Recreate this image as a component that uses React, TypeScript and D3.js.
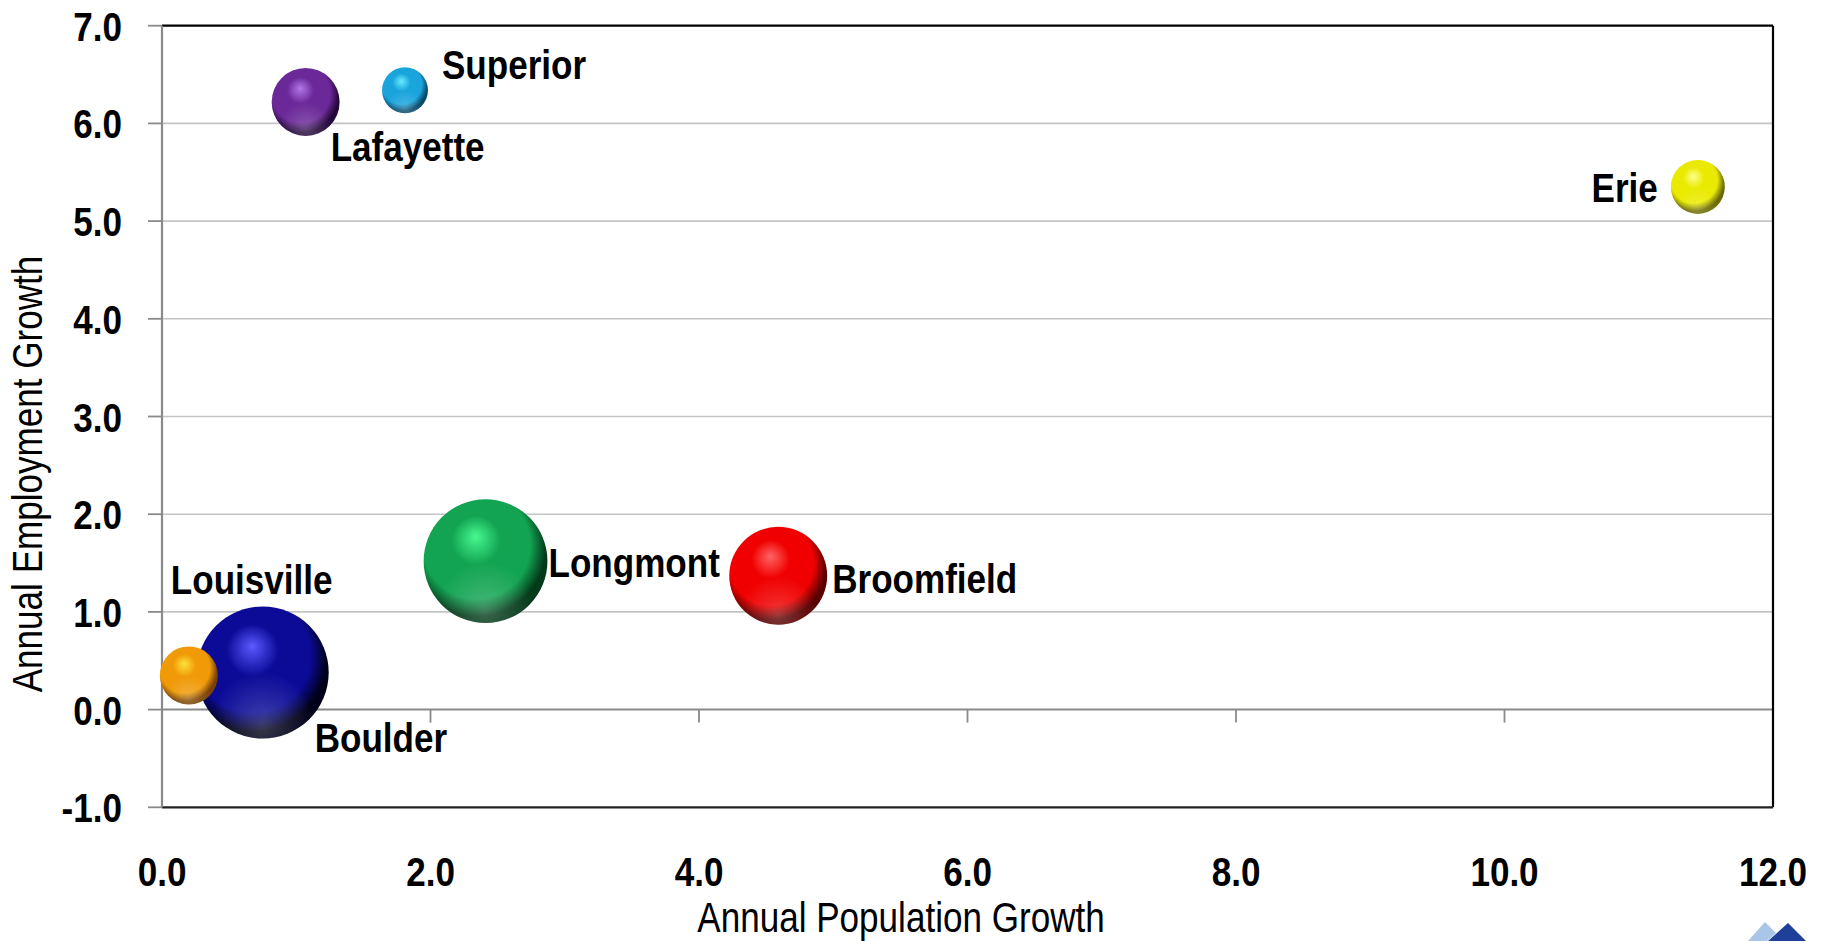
import React from "react";
import * as d3 from "d3";

const cities = ["Boulder", "Louisville", "Lafayette", "Superior", "Longmont", "Broomfield", "Erie"];
const popGrowth = [0.75, 0.2, 1.07, 1.81, 2.41, 4.59, 11.44];
const empGrowth = [0.38, 0.35, 6.22, 6.34, 1.52, 1.37, 5.35];
const bubbleSize = [100, 19.3, 26.5, 12.1, 88, 55, 16.7];
const baseColors = ["#0b0b98", "#f09a08", "#6a2898", "#1aa4dc", "#12a452", "#f00000", "#eaea00"];
const lightColors = ["#5a5aff", "#ffe23a", "#b478e8", "#6aeaff", "#48f890", "#ff6464", "#ffff90"];
const darkColors = ["#000018", "#7a4200", "#24083a", "#064a6a", "#043a1a", "#5a0000", "#6a6a00"];
const labelDx = [52, -18, 25, 37, 63, 54, -40];
const labelDy = [80, -81, 59, -11, 16, 17, 15];
const labelAnchor = ["start", "start", "start", "start", "start", "start", "end"];

const xTicks = [0, 2, 4, 6, 8, 10, 12];
const yTicks = [-1, 0, 1, 2, 3, 4, 5, 6, 7];
const xTitle = "Annual Population Growth";
const yTitle = "Annual Employment Growth";

const W = 1825;
const H = 941;
const FONT = "'Liberation Sans', Arial, sans-serif";

function NText(props: { x: number; y: number; rotate?: number; anchor?: string; size: number; bold?: boolean; sx?: number; children: any }) {
  const { x, y, rotate, anchor, size, bold, sx, children } = props;
  const tr = `translate(${x},${y})${rotate ? ` rotate(${rotate})` : ""} scale(${sx ?? (bold ? 0.845 : 0.835)},1)`;
  return (
    <text transform={tr} textAnchor={anchor || "start"} fontFamily={FONT} fontWeight={bold ? "bold" : "normal"} fontSize={size} fill="#000">
      {children}
    </text>
  );
}

export default function App() {
  const x = d3.scaleLinear().domain([0, 12]).range([162, 1773]);
  const y = d3.scaleLinear().domain([-1, 7]).range([807.3, 25.7]);
  const r = d3.scaleSqrt().domain([0, 100]).range([0, 66]);
  const fmt = (v: number) => v.toFixed(1);
  const x0 = x(0), x1 = x(12), yTop = y(7), yBot = y(-1), yZero = y(0);

  return (
    <svg width={W} height={H} style={{ position: "absolute", left: 0, top: 0, display: "block" }}>
      <defs>
        {cities.map((c, i) => (
          <radialGradient key={c} id={`g${i}`} cx="0.43" cy="0.4" r="0.62" fx="0.42" fy="0.3">
            <stop offset="0" stopColor={lightColors[i]} />
            <stop offset="0.32" stopColor={baseColors[i]} />
            <stop offset="0.7" stopColor={baseColors[i]} />
            <stop offset="0.9" stopColor={darkColors[i]} />
            <stop offset="1" stopColor={darkColors[i]} />
          </radialGradient>
        ))}
        <radialGradient id="refl" cx="0.5" cy="0.9" r="0.4">
          <stop offset="0" stopColor="#ffffff" stopOpacity="0.22" />
          <stop offset="1" stopColor="#ffffff" stopOpacity="0" />
        </radialGradient>
      </defs>
      <rect x={0} y={0} width={W} height={H} fill="#ffffff" />

      {yTicks.filter((t) => t > 0 && t < 7).map((t) => (
        <line key={`g${t}`} x1={x0} x2={x1} y1={y(t)} y2={y(t)} stroke="#c4c4c4" strokeWidth={1.6} />
      ))}

      {yTicks.map((t) => (
        <line key={`yt${t}`} x1={148} x2={x0} y1={y(t)} y2={y(t)} stroke="#8a8a8a" strokeWidth={1.8} />
      ))}
      <line x1={x0} x2={x1} y1={yZero} y2={yZero} stroke="#8a8a8a" strokeWidth={2} />
      {xTicks.map((t) => (
        <line key={`xt${t}`} x1={x(t)} x2={x(t)} y1={yZero} y2={yZero + 13} stroke="#8a8a8a" strokeWidth={1.8} />
      ))}
      <line x1={x0} x2={x1} y1={yTop} y2={yTop} stroke="#000" strokeWidth={2.2} />
      <line x1={x1} x2={x1} y1={yTop} y2={yBot} stroke="#000" strokeWidth={2.2} />
      <line x1={x0} x2={x1} y1={yBot} y2={yBot} stroke="#222" strokeWidth={2.2} />
      <line x1={x0} x2={x0} y1={yTop} y2={yBot} stroke="#8a8a8a" strokeWidth={2.2} />

      {yTicks.map((t) => (
        <NText key={`yl${t}`} x={122} y={y(t) + 15} anchor="end" size={41.5} bold>{fmt(t)}</NText>
      ))}
      {xTicks.map((t) => (
        <NText key={`xl${t}`} x={x(t)} y={886} anchor="middle" size={41.5} bold>{fmt(t)}</NText>
      ))}

      <NText x={901} y={932} anchor="middle" size={42}>{xTitle}</NText>
      <NText x={42} y={474} rotate={-90} anchor="middle" size={42}>{yTitle}</NText>

      {cities.map((c, i) => {
        const cx = x(popGrowth[i]);
        const cy = y(empGrowth[i]);
        const rr = r(bubbleSize[i]);
        return (
          <g key={c}>
            <circle cx={cx} cy={cy} r={rr} fill={`url(#g${i})`} />
            <circle cx={cx} cy={cy} r={rr} fill="url(#refl)" />
          </g>
        );
      })}

      {cities.map((c, i) => (
        <NText key={`lab${c}`} x={x(popGrowth[i]) + labelDx[i]} y={y(empGrowth[i]) + labelDy[i]}
          anchor={labelAnchor[i]} size={41.5} bold>{c}</NText>
      ))}

      <polygon points="1748,941 1765,922 1776,933 1767,941" fill="#a9c6e8" />
      <polygon points="1768,941 1788,923 1806,941" fill="#1e3f9a" />
    </svg>
  );
}
